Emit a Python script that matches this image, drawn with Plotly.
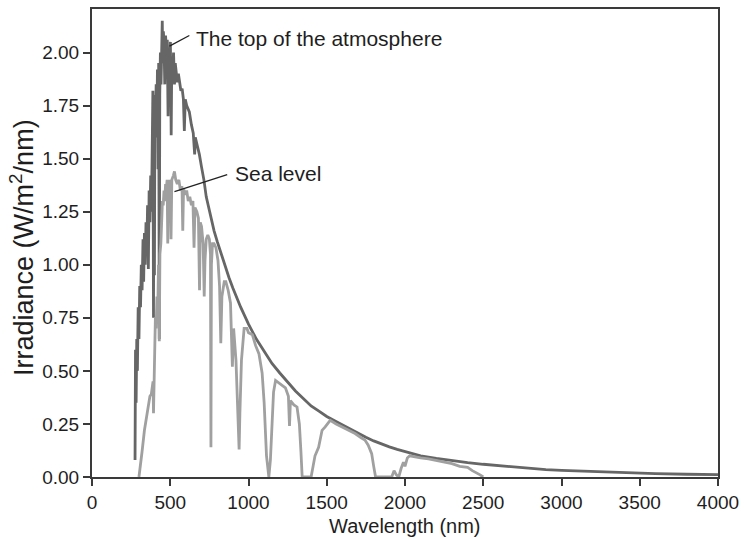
import plotly.graph_objects as go

# ---- Data ----
toa_wavelength = [275, 278, 282, 286, 290, 295, 300, 305, 310, 315, 320, 326, 330, 335, 340, 345, 350, 355, 360, 365,
                  370, 375, 380, 385, 389, 393, 396, 399, 402, 406, 410, 414, 418, 422, 426, 430, 433, 437, 441, 445,
                  449, 452, 456, 460, 465, 470, 476, 481, 486, 490, 496, 501, 506, 510, 516, 521, 527, 532, 538, 545,
                  552, 560, 568, 576, 584, 590, 596, 605, 615, 622, 635, 647, 656, 660, 673, 686, 700, 715, 730, 745,
                  760, 780, 800, 825, 850, 875, 900, 925, 950, 975, 1000, 1050, 1100, 1150, 1200, 1250, 1300, 1350,
                  1400, 1450, 1500, 1550, 1600, 1650, 1700, 1750, 1800, 1850, 1900, 1950, 2000, 2100, 2200, 2300,
                  2400, 2500, 2600, 2700, 2800, 2900, 3000, 3200, 3400, 3600, 3800, 4000]
toa_irradiance = [0.08, 0.60, 0.35, 0.65, 0.50, 0.80, 0.65, 0.90, 0.80, 1.00, 0.88, 1.12, 0.92, 1.15, 1.00, 1.20, 1.05,
                  1.28, 0.98, 1.35, 1.20, 1.42, 1.25, 1.65, 1.82, 0.75, 1.70, 0.95, 1.80, 1.70, 1.85, 1.60, 1.92, 1.45,
                  1.95, 0.65, 1.80, 2.00, 1.85, 2.08, 2.15, 1.95, 2.10, 2.05, 1.85, 2.08, 2.00, 2.06, 1.70, 2.02, 1.95,
                  2.05, 1.61, 1.98, 1.92, 2.00, 1.85, 1.95, 1.90, 1.86, 1.90, 1.85, 1.82, 1.83, 1.78, 1.63, 1.78, 1.75,
                  1.73, 1.72, 1.66, 1.62, 1.52, 1.60, 1.56, 1.52, 1.46, 1.40, 1.32, 1.27, 1.22, 1.16, 1.11, 1.05, 0.99,
                  0.94, 0.89, 0.84, 0.80, 0.76, 0.72, 0.65, 0.59, 0.535, 0.49, 0.445, 0.405, 0.37, 0.335, 0.31, 0.285,
                  0.265, 0.245, 0.225, 0.205, 0.187, 0.17, 0.155, 0.142, 0.13, 0.12, 0.10, 0.088, 0.077, 0.068, 0.06,
                  0.053, 0.046, 0.040, 0.035, 0.031, 0.025, 0.020, 0.016, 0.013, 0.011]

sea_wavelength = [300, 310, 320, 335, 347, 360, 370, 379, 390, 393, 396, 400, 405, 410, 415, 420, 425, 430, 434, 440,
                  445, 450, 455, 460, 465, 470, 475, 480, 484, 488, 495, 500, 505, 510, 520, 527, 535, 545, 555, 565,
                  575, 580, 585, 595, 605, 615, 625, 635, 645, 652, 658, 670, 680, 687, 692, 700, 710, 717, 722, 730,
                  740, 750, 757, 760, 763, 770, 780, 792, 805, 815, 823, 830, 845, 855, 870, 885, 897, 905, 920, 935,
                  940, 945, 955, 972, 990, 1000, 1025, 1045, 1067, 1087, 1100, 1115, 1130, 1140, 1150, 1160, 1173,
                  1200, 1236, 1255, 1262, 1268, 1290, 1310, 1325, 1335, 1343, 1400, 1410, 1425, 1448, 1470, 1490,
                  1522, 1560, 1596, 1640, 1681, 1720, 1744, 1765, 1787, 1800, 1812, 1915, 1930, 1945, 1960, 1975,
                  1990, 2000, 2015, 2030, 2060, 2100, 2150, 2200, 2250, 2300, 2350, 2400, 2430, 2460, 2480, 2500]
sea_irradiance = [0.00, 0.05, 0.12, 0.22, 0.28, 0.33, 0.38, 0.39, 0.45, 0.30, 0.48, 0.52, 0.75, 0.70, 0.85, 0.78, 1.00,
                  0.64, 1.05, 1.10, 1.22, 1.30, 1.28, 1.35, 1.30, 1.38, 1.36, 1.40, 1.10, 1.36, 1.40, 1.38, 1.12, 1.40,
                  1.42, 1.44, 1.40, 1.38, 1.40, 1.35, 1.37, 1.16, 1.36, 1.33, 1.35, 1.30, 1.32, 1.28, 1.30, 1.08, 1.27,
                  1.25, 1.22, 0.88, 1.20, 1.18, 1.10, 0.85, 1.02, 1.12, 1.14, 1.12, 1.05, 0.14, 1.00, 1.10, 1.10, 1.08,
                  1.02, 0.90, 0.63, 0.85, 0.92, 0.92, 0.88, 0.82, 0.52, 0.70, 0.55, 0.25, 0.13, 0.30, 0.55, 0.70, 0.70,
                  0.68, 0.67, 0.62, 0.58, 0.49, 0.35, 0.10, 0.00, 0.08, 0.25, 0.40, 0.455, 0.44, 0.42, 0.38, 0.24, 0.36,
                  0.34, 0.33, 0.25, 0.12, 0.00, 0.00, 0.04, 0.10, 0.14, 0.22, 0.236, 0.267, 0.25, 0.236, 0.22, 0.205,
                  0.185, 0.174, 0.15, 0.11, 0.05, 0.00, 0.00, 0.03, 0.01, 0.00, 0.04, 0.07, 0.05, 0.09, 0.10, 0.095,
                  0.09, 0.085, 0.078, 0.07, 0.063, 0.05, 0.045, 0.03, 0.02, 0.01, 0.00]

x_tick_values = [0, 500, 1000, 1500, 2000, 2500, 3000, 3500, 4000]
y_tick_values = [0.00, 0.25, 0.50, 0.75, 1.00, 1.25, 1.50, 1.75, 2.00]

label_top = "The top of the atmosphere"
label_sea = "Sea level"
x_title = "Wavelength (nm)"
y_title = "Irradiance (W/m<sup>2</sup>/nm)"

FONT = "Arial, Liberation Sans, sans-serif"
AXIS_COLOR = "#3a3a3a"
TEXT_COLOR = "#1e1e1e"

fig = go.Figure()
fig.add_trace(go.Scatter(x=toa_wavelength, y=toa_irradiance, mode="lines",
                         line=dict(color="#666666", width=2.8), showlegend=False, hoverinfo="skip"))
fig.add_trace(go.Scatter(x=sea_wavelength, y=sea_irradiance, mode="lines",
                         line=dict(color="#a0a0a0", width=2.8), showlegend=False, hoverinfo="skip"))

# leader lines and labels
fig.add_shape(type="line", xref="x", yref="y", x0=495, y0=2.03, x1=622, y1=2.08,
              line=dict(color="#222222", width=1.3))
fig.add_shape(type="line", xref="x", yref="y", x0=527, y0=1.345, x1=864, y1=1.425,
              line=dict(color="#222222", width=1.3))
fig.add_annotation(x=650, y=2.065, xref="x", yref="y", text=label_top, showarrow=False,
                   xanchor="left", yanchor="middle", font=dict(family=FONT, size=21, color=TEXT_COLOR))
fig.add_annotation(x=900, y=1.43, xref="x", yref="y", text=label_sea, showarrow=False,
                   xanchor="left", yanchor="middle", font=dict(family=FONT, size=21, color=TEXT_COLOR))

# axis titles
fig.add_annotation(x=0.5, y=-0.104, xref="paper", yref="paper", text=x_title, showarrow=False,
                   xanchor="center", yanchor="middle", font=dict(family=FONT, size=20, color=TEXT_COLOR))
fig.add_annotation(x=-0.113, y=0.49, xref="paper", yref="paper", text=y_title, showarrow=False,
                   textangle=-90, xanchor="center", yanchor="middle",
                   font=dict(family=FONT, size=27, color=TEXT_COLOR))

fig.update_layout(
    width=746, height=539,
    margin=dict(l=92, r=24, t=7, b=62),
    paper_bgcolor="white", plot_bgcolor="white",
    font=dict(family=FONT, size=19, color=TEXT_COLOR),
    hovermode=False,
    xaxis=dict(range=[0, 4000], tickvals=x_tick_values, ticks="outside", ticklen=7, tickwidth=1.5,
               tickcolor=AXIS_COLOR, showline=True, linecolor=AXIS_COLOR, linewidth=2, mirror=True,
               showgrid=False, zeroline=False, tickfont=dict(family=FONT, size=19, color=TEXT_COLOR)),
    yaxis=dict(range=[0, 2.205], tickvals=y_tick_values, tickformat=".2f", ticks="outside", ticklen=7,
               tickwidth=1.5, tickcolor=AXIS_COLOR, showline=True, linecolor=AXIS_COLOR, linewidth=2,
               mirror=True, showgrid=False, zeroline=False, tickfont=dict(family=FONT, size=19, color=TEXT_COLOR)),
)

# remove the browser's default 8px body margin so the figure sits at the page origin
fig.write_html("out.html", config={"displayModeBar": False},
               post_script="document.body.style.margin='0';")
